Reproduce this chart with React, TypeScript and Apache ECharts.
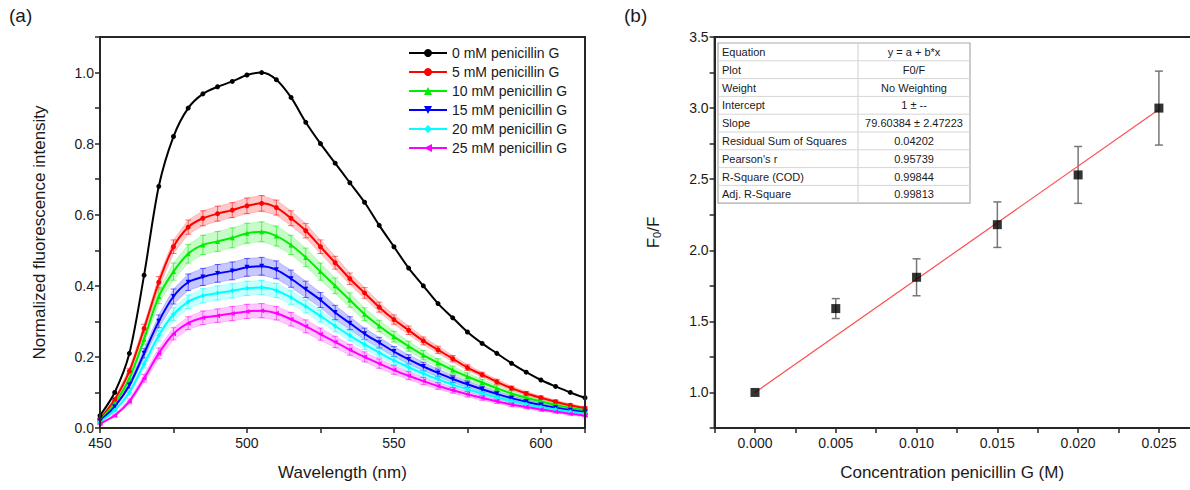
import React, { useEffect, useRef } from "react";
import * as echarts from "echarts";

// ---------- Panel (a): fluorescence spectra ----------
const wavelengths = [450, 455, 460, 465, 470, 475, 480, 485, 490, 495, 500, 505, 510, 515, 520, 525, 530, 535, 540, 545, 550, 555, 560, 565, 570, 575, 580, 585, 590, 595, 600, 605, 610, 615];

const spec0 = [0.035, 0.10, 0.21, 0.43, 0.68, 0.82, 0.90, 0.94, 0.96, 0.975, 0.993, 1.0, 0.98, 0.93, 0.86, 0.80, 0.745, 0.69, 0.635, 0.57, 0.51, 0.45, 0.40, 0.35, 0.31, 0.27, 0.238, 0.21, 0.182, 0.157, 0.135, 0.117, 0.10, 0.085];
const spec5 = [0.025, 0.08, 0.16, 0.28, 0.41, 0.51, 0.565, 0.59, 0.603, 0.613, 0.625, 0.632, 0.62, 0.59, 0.555, 0.51, 0.465, 0.42, 0.38, 0.34, 0.305, 0.275, 0.245, 0.22, 0.195, 0.17, 0.15, 0.13, 0.112, 0.097, 0.085, 0.074, 0.064, 0.056];
const spec10 = [0.022, 0.07, 0.14, 0.25, 0.37, 0.44, 0.49, 0.515, 0.525, 0.535, 0.548, 0.552, 0.54, 0.515, 0.48, 0.44, 0.40, 0.36, 0.32, 0.287, 0.257, 0.23, 0.205, 0.183, 0.163, 0.145, 0.128, 0.112, 0.097, 0.085, 0.075, 0.065, 0.057, 0.05];
const spec15 = [0.02, 0.06, 0.12, 0.21, 0.30, 0.37, 0.41, 0.425, 0.435, 0.442, 0.452, 0.455, 0.445, 0.42, 0.39, 0.36, 0.325, 0.295, 0.265, 0.24, 0.215, 0.193, 0.173, 0.155, 0.138, 0.123, 0.109, 0.096, 0.084, 0.074, 0.065, 0.057, 0.05, 0.045];
const spec20 = [0.017, 0.05, 0.10, 0.18, 0.26, 0.32, 0.355, 0.372, 0.38, 0.386, 0.393, 0.395, 0.387, 0.367, 0.342, 0.315, 0.287, 0.26, 0.235, 0.212, 0.19, 0.171, 0.153, 0.137, 0.122, 0.109, 0.097, 0.086, 0.076, 0.067, 0.059, 0.052, 0.046, 0.04];
const spec25 = [0.012, 0.035, 0.075, 0.14, 0.21, 0.265, 0.295, 0.31, 0.316, 0.322, 0.328, 0.33, 0.323, 0.306, 0.286, 0.264, 0.242, 0.22, 0.2, 0.181, 0.163, 0.147, 0.132, 0.118, 0.106, 0.095, 0.085, 0.075, 0.066, 0.059, 0.052, 0.046, 0.04, 0.035];

const err5 = [0.003, 0.005, 0.008, 0.012, 0.016, 0.019, 0.02, 0.021, 0.021, 0.021, 0.022, 0.022, 0.021, 0.021, 0.02, 0.019, 0.018, 0.016, 0.015, 0.014, 0.013, 0.012, 0.011, 0.01, 0.009, 0.008, 0.007, 0.007, 0.006, 0.006, 0.005, 0.005, 0.004, 0.004];
const err10 = [0.003, 0.005, 0.009, 0.014, 0.02, 0.024, 0.026, 0.027, 0.028, 0.028, 0.028, 0.028, 0.028, 0.027, 0.026, 0.024, 0.022, 0.02, 0.018, 0.016, 0.015, 0.014, 0.013, 0.012, 0.011, 0.01, 0.009, 0.008, 0.007, 0.006, 0.006, 0.005, 0.005, 0.004];
const err15 = [0.003, 0.005, 0.008, 0.013, 0.018, 0.021, 0.023, 0.024, 0.025, 0.025, 0.025, 0.025, 0.025, 0.024, 0.023, 0.021, 0.02, 0.018, 0.016, 0.015, 0.014, 0.013, 0.012, 0.011, 0.01, 0.009, 0.008, 0.007, 0.006, 0.006, 0.005, 0.005, 0.004, 0.004];
const err20 = [0.002, 0.004, 0.007, 0.011, 0.015, 0.018, 0.019, 0.02, 0.02, 0.02, 0.02, 0.02, 0.02, 0.019, 0.018, 0.017, 0.016, 0.015, 0.014, 0.013, 0.012, 0.011, 0.01, 0.009, 0.008, 0.007, 0.007, 0.006, 0.006, 0.005, 0.005, 0.004, 0.004, 0.003];
const err25 = [0.002, 0.004, 0.007, 0.011, 0.015, 0.017, 0.018, 0.019, 0.019, 0.02, 0.02, 0.02, 0.019, 0.019, 0.018, 0.017, 0.016, 0.015, 0.014, 0.013, 0.012, 0.011, 0.01, 0.009, 0.008, 0.008, 0.007, 0.006, 0.006, 0.005, 0.005, 0.004, 0.004, 0.003];

const seriesNames = ["0 mM penicillin G", "5 mM penicillin G", "10 mM penicillin G", "15 mM penicillin G", "20 mM penicillin G", "25 mM penicillin G"];
const seriesColors = ["#000000", "#ff0000", "#00ee00", "#0000ff", "#00ffff", "#ff00ff"];
const seriesSymbols = ["circle", "circle", "triangle", "triangle", "diamond", "triangle"];
const seriesRotations = [0, 0, 0, 180, 0, 90];
const spectra = [spec0, spec5, spec10, spec15, spec20, spec25];
const spectraErr = [null, err5, err10, err15, err20, err25];

// ---------- Panel (b): Stern-Volmer ----------
const concentrations = [0, 0.005, 0.01, 0.015, 0.02, 0.025];
const f0f = [1.0, 1.59, 1.81, 2.18, 2.53, 3.0];
const f0fErr = [0.0, 0.07, 0.13, 0.16, 0.2, 0.26];
const fitIntercept = 1;
const fitSlope = 79.60384;

const tableLabels = ["Equation", "Plot", "Weight", "Intercept", "Slope", "Residual Sum of Squares", "Pearson's r", "R-Square (COD)", "Adj. R-Square"];
const tableValues = ["y = a + b*x", "F0/F", "No Weighting", "1 \u00b1 --", "79.60384 \u00b1 2.47223", "0.04202", "0.95739", "0.99844", "0.99813"];

const FONT = "'Liberation Sans', Arial, Helvetica, sans-serif";
const AXIS_COLOR = "#262626";
const TEXT_COLOR = "#1a1a1a";

function near(v: number, step: number) {
  return Math.abs(v / step - Math.round(v / step)) < 1e-6;
}

function makeAxisLine() {
  return { show: true, onZero: false, lineStyle: { color: AXIS_COLOR, width: 2 } };
}
function makeAxisTick() {
  return { show: true, inside: false, length: 5, lineStyle: { color: AXIS_COLOR, width: 1.5 } };
}
function frameOnly() {
  return { axisLine: makeAxisLine(), axisTick: { show: false }, axisLabel: { show: false }, splitLine: { show: false } };
}

export default function App() {
  const ref = useRef<HTMLDivElement>(null);

  useEffect(() => {
    if (!ref.current) return;
    const chart = echarts.init(ref.current, undefined, { renderer: "svg" });

    const series: any[] = [];

    spectra.forEach((vals, si) => {
      const errs = spectraErr[si];
      if (!errs) return;
      const color = seriesColors[si];
      series.push({
        type: "custom",
        xAxisIndex: 0,
        yAxisIndex: 0,
        z: 1,
        silent: true,
        encode: { x: 0, y: 1 },
        data: wavelengths.map((w, i) => [w, vals[i], errs[i]]),
        renderItem: (params: any, api: any) => {
          const x = api.value(0);
          const y = api.value(1);
          const e = api.value(2);
          const hi = api.coord([x, y + e]);
          const lo = api.coord([x, y - e]);
          const st = { stroke: color, lineWidth: 1, opacity: 0.55 };
          const children: any[] = [
            { type: "line", shape: { x1: hi[0], y1: hi[1], x2: lo[0], y2: lo[1] }, style: st },
            { type: "line", shape: { x1: hi[0] - 3, y1: hi[1], x2: hi[0] + 3, y2: hi[1] }, style: st },
            { type: "line", shape: { x1: lo[0] - 3, y1: lo[1], x2: lo[0] + 3, y2: lo[1] }, style: st },
          ];
          if (params.dataIndex === 0) {
            const upper = wavelengths.map((w, i) => api.coord([w, vals[i] + errs[i]]));
            const lower = wavelengths.map((w, i) => api.coord([w, vals[i] - errs[i]])).reverse();
            children.unshift({
              type: "polygon",
              shape: { points: upper.concat(lower) },
              style: { fill: color, opacity: 0.22, stroke: color, lineWidth: 0.8 },
            });
          }
          return { type: "group", children };
        },
      });
    });

    spectra.forEach((vals, si) => {
      series.push({
        type: "line",
        name: seriesNames[si],
        xAxisIndex: 0,
        yAxisIndex: 0,
        z: 3 + (si === 0 ? 1 : 0),
        smooth: 0.3,
        symbol: seriesSymbols[si],
        symbolRotate: seriesRotations[si],
        symbolSize: 5,
        showSymbol: true,
        itemStyle: { color: seriesColors[si] },
        lineStyle: { color: seriesColors[si], width: 2 },
        data: wavelengths.map((w, i) => [w, vals[i]]),
      });
    });

    series.push({
      type: "line",
      xAxisIndex: 1,
      yAxisIndex: 1,
      z: 2,
      silent: true,
      symbol: "none",
      lineStyle: { color: "#ff4d4d", width: 1.2 },
      data: [concentrations[0], concentrations[concentrations.length - 1]].map((c) => [c, fitIntercept + fitSlope * c]),
    });
    series.push({
      type: "custom",
      xAxisIndex: 1,
      yAxisIndex: 1,
      z: 2,
      silent: true,
      encode: { x: 0, y: 1 },
      data: concentrations.map((c, i) => [c, f0f[i], f0fErr[i]]),
      renderItem: (params: any, api: any) => {
        const x = api.value(0);
        const y = api.value(1);
        const e = api.value(2);
        if (!e) return null;
        const hi = api.coord([x, y + e]);
        const lo = api.coord([x, y - e]);
        const st = { stroke: "#777777", lineWidth: 1.5 };
        return {
          type: "group",
          children: [
            { type: "line", shape: { x1: hi[0], y1: hi[1], x2: lo[0], y2: lo[1] }, style: st },
            { type: "line", shape: { x1: hi[0] - 4, y1: hi[1], x2: hi[0] + 4, y2: hi[1] }, style: st },
            { type: "line", shape: { x1: lo[0] - 4, y1: lo[1], x2: lo[0] + 4, y2: lo[1] }, style: st },
          ],
        };
      },
    });
    series.push({
      type: "scatter",
      xAxisIndex: 1,
      yAxisIndex: 1,
      z: 3,
      symbol: "rect",
      symbolSize: 9,
      itemStyle: { color: "#000000" },
      data: concentrations.map((c, i) => [c, f0f[i]]),
    });

    const axisLabelBase = { color: TEXT_COLOR, fontSize: 14, fontFamily: FONT };
    const nameStyle = { color: TEXT_COLOR, fontSize: 17, fontFamily: FONT };

    const tX = 718, tY = 43, tW = 252, rowH = 17.8, col1W = 140;
    const tableEls: any[] = [
      { type: "rect", shape: { x: tX, y: tY, width: tW, height: rowH * tableLabels.length }, style: { fill: "#ffffff", stroke: "#aaaaaa", lineWidth: 1.2 } },
      { type: "line", shape: { x1: tX + col1W, y1: tY, x2: tX + col1W, y2: tY + rowH * tableLabels.length }, style: { stroke: "#cfcfcf", lineWidth: 1 } },
    ];
    tableLabels.forEach((lab, i) => {
      if (i > 0) {
        tableEls.push({ type: "line", shape: { x1: tX, y1: tY + rowH * i, x2: tX + tW, y2: tY + rowH * i }, style: { stroke: "#d6d6d6", lineWidth: 1 } });
      }
      tableEls.push({ type: "text", x: tX + 4, y: tY + rowH * i + rowH / 2, style: { text: lab, fill: TEXT_COLOR, fontSize: 11, fontFamily: FONT, verticalAlign: "middle", align: "left" } });
      tableEls.push({ type: "text", x: tX + col1W + (tW - col1W) / 2, y: tY + rowH * i + rowH / 2, style: { text: tableValues[i], fill: TEXT_COLOR, fontSize: 11, fontFamily: FONT, verticalAlign: "middle", align: "center" } });
    });

    const option: any = {
      animation: false,
      backgroundColor: "#ffffff",
      textStyle: { fontFamily: FONT },
      grid: [
        { left: 100, top: 37, width: 485, height: 391 },
        { left: 714.6, top: 37, width: 475, height: 391 },
      ],
      legend: {
        data: seriesNames,
        left: 408,
        top: 46,
        orient: "vertical",
        itemWidth: 38,
        itemHeight: 10,
        itemGap: 5,
        padding: 0,
        textStyle: { color: TEXT_COLOR, fontSize: 14, fontFamily: FONT, lineHeight: 14 },
      },
      xAxis: [
        {
          gridIndex: 0, type: "value", min: 450, max: 615, interval: 25,
          name: "Wavelength (nm)", nameLocation: "middle", nameGap: 36, nameTextStyle: nameStyle,
          axisLine: makeAxisLine(), axisTick: makeAxisTick(), splitLine: { show: false },
          axisLabel: { ...axisLabelBase, margin: 8, formatter: (v: number) => (near(v, 50) ? String(Math.round(v)) : "") },
        },
        {
          gridIndex: 1, type: "value", min: -0.0025, max: 0.0269, interval: 0.0025,
          name: "Concentration penicillin G (M)", nameLocation: "middle", nameGap: 36, nameTextStyle: nameStyle,
          axisLine: makeAxisLine(), axisTick: makeAxisTick(), splitLine: { show: false },
          axisLabel: { ...axisLabelBase, margin: 8, showMaxLabel: false, formatter: (v: number) => (v > -1e-9 && v < 0.0256 && near(v, 0.005) ? v.toFixed(3) : "") },
        },
        { gridIndex: 1, type: "value", min: -0.0025, max: 0.0269, position: "top", ...frameOnly() },
        { gridIndex: 0, type: "value", min: 450, max: 615, position: "top", ...frameOnly() },
      ],
      yAxis: [
        {
          gridIndex: 0, type: "value", min: 0, max: 1.1, interval: 0.1,
          name: "Normalized fluorescence intensity", nameLocation: "middle", nameGap: 52, nameRotate: 90, nameTextStyle: nameStyle,
          axisLine: makeAxisLine(), axisTick: makeAxisTick(), splitLine: { show: false },
          axisLabel: { ...axisLabelBase, margin: 6, formatter: (v: number) => (Math.round(v * 10) % 2 === 0 && v < 1.05 ? v.toFixed(1) : "") },
        },
        {
          gridIndex: 1, type: "value", min: 0.75, max: 3.5, interval: 0.25,
          name: "{a|F}{s|0}{a|/F}", nameLocation: "middle", nameGap: 52, nameRotate: 90,
          nameTextStyle: {
            ...nameStyle,
            rich: {
              a: { fontSize: 17, fontFamily: FONT, color: TEXT_COLOR },
              s: { fontSize: 11, fontFamily: FONT, color: TEXT_COLOR, verticalAlign: "bottom", padding: [8, 0, 0, 0] },
            },
          },
          axisLine: makeAxisLine(), axisTick: makeAxisTick(), splitLine: { show: false },
          axisLabel: { ...axisLabelBase, margin: 6, formatter: (v: number) => (near(v, 0.5) ? v.toFixed(1) : "") },
        },
        { gridIndex: 0, type: "value", min: 0, max: 1.1, position: "right", ...frameOnly() },
      ],
      graphic: [
        { id: "labA", type: "text", left: 9, top: 6, style: { text: "(a)", fill: TEXT_COLOR, fontSize: 19, fontFamily: FONT } },
        { id: "labB", type: "text", left: 624, top: 6, style: { text: "(b)", fill: TEXT_COLOR, fontSize: 19, fontFamily: FONT } },
        { id: "table", type: "group", z: 10, children: tableEls },
      ],
      series,
    };

    chart.setOption(option);

    // frames drawn through the axes' own scales (robust overlay)
    const a0 = chart.convertToPixel({ xAxisIndex: 0, yAxisIndex: 0 }, [450, 0]) as number[];
    const a1 = chart.convertToPixel({ xAxisIndex: 0, yAxisIndex: 0 }, [615, 1.1]) as number[];
    const b0 = chart.convertToPixel({ xAxisIndex: 1, yAxisIndex: 1 }, [-0.0025, 0.75]) as number[];
    const b1 = chart.convertToPixel({ xAxisIndex: 1, yAxisIndex: 1 }, [0.0269, 3.5]) as number[];
    if (a0 && a1 && b0 && b1) {
      const frameStyle = { stroke: AXIS_COLOR, lineWidth: 2, fill: null };
      chart.setOption({
        graphic: [
          { id: "frameA", type: "polyline", z: 5, silent: true, shape: { points: [[a0[0], a0[1]], [a0[0], a1[1]], [a1[0], a1[1]], [a1[0], a0[1]], [a0[0], a0[1]]] }, style: frameStyle },
          { id: "frameB", type: "polyline", z: 5, silent: true, shape: { points: [[b1[0], b1[1]], [b0[0], b1[1]], [b0[0], b0[1]], [b1[0], b0[1]]] }, style: frameStyle },
        ],
      });
    }

    return () => chart.dispose();
  }, []);

  return <div ref={ref} style={{ position: "absolute", left: 0, top: 0, width: 1190, height: 490 }} />;
}
